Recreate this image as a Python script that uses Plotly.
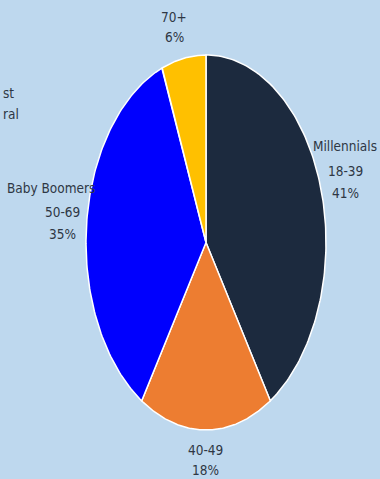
import numpy as np
import plotly.graph_objects as go

# ---- data ----
segments = ["Millennials", "", "Baby Boomers", ""]
age_ranges = ["18-39", "40-49", "50-69", "70+"]
shares = [41, 18, 35, 6]
colors = ["#1c2a3e", "#ed7d31", "#0000fe", "#ffc000"]

BG = "#bed8ee"
TXT = "#2e3744"
FONT = "Liberation Sans Narrow, DejaVu Sans Condensed, Arial Narrow, sans-serif"
FS = 13.5

W, H = 380, 479
CX, CY = 206, 242.5   # pixel centre of the pie
RX, RY = 120, 187.5   # pixel radii (stretched pie)

fig = go.Figure()

total = float(sum(shares))
cum = 0.0
for seg, age, val, col in zip(segments, age_ranges, shares, colors):
    t0 = 2 * np.pi * cum / total
    t1 = 2 * np.pi * (cum + val) / total
    cum += val
    t = np.linspace(t0, t1, 120)
    xs = np.concatenate([[0], np.sin(t), [0]])
    ys = np.concatenate([[0], np.cos(t), [0]])
    fig.add_trace(go.Scatter(
        x=xs, y=ys, mode="lines", fill="toself", fillcolor=col,
        line=dict(color="white", width=1.5),
        name=(seg + " " + age).strip(), hoverinfo="name", showlegend=False,
    ))

# label positions (pixel anchor for each line: x, y, xanchor)
label_pos = {
    0: [(379, 146, "right"), (345, 171, "center"), (345, 193, "center")],
    1: [(205, 450, "center"), (205, 470, "center")],
    2: [(51, 188, "center"), (62, 212, "center"), (62, 234, "center")],
    3: [(174, 17, "center"), (174, 37, "center")],
}

def px(x, y):
    return x / W, 1 - y / H

ann = []
for i, (seg, age, val) in enumerate(zip(segments, age_ranges, shares)):
    lines = ([seg] if seg else []) + [age, f"{val}%"]
    for txt, (lx, ly, xa) in zip(lines, label_pos[i]):
        x, y = px(lx, ly)
        ann.append(dict(x=x, y=y, xref="paper", yref="paper", text=txt,
                        showarrow=False, xanchor=xa, yanchor="middle",
                        font=dict(family=FONT, size=FS, color=TXT)))

# partially visible label at left edge
for txt, (lx, ly) in [("st", (1, 93)), ("ral", (1, 114))]:
    x, y = px(lx, ly)
    ann.append(dict(x=x, y=y, xref="paper", yref="paper", text=txt,
                    showarrow=False, xanchor="left", yanchor="middle",
                    font=dict(family=FONT, size=FS, color=TXT)))

fig.update_layout(
    width=W, height=H,
    margin=dict(l=0, r=0, t=0, b=0),
    paper_bgcolor=BG, plot_bgcolor=BG,
    xaxis=dict(range=[-CX / RX, (W - CX) / RX], visible=False, fixedrange=True),
    yaxis=dict(range=[-(H - CY) / RY, CY / RY], visible=False, fixedrange=True),
    annotations=ann,
    showlegend=False,
)

fig.write_html("out.html", config={"displayModeBar": False})
